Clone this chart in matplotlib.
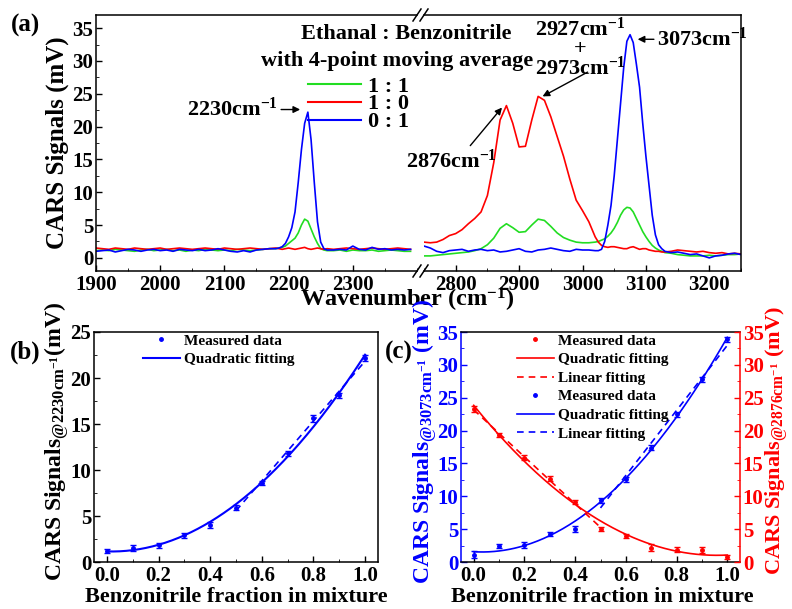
import numpy as np
import matplotlib
matplotlib.use("Agg")
import matplotlib.pyplot as plt
from matplotlib.lines import Line2D
from matplotlib.ticker import MultipleLocator

plt.rcParams['font.family'] = 'Liberation Serif'
plt.rcParams['font.weight'] = 'bold'
plt.rcParams['mathtext.fontset'] = 'custom'
plt.rcParams['mathtext.rm'] = 'Liberation Serif:bold'
plt.rcParams['mathtext.bf'] = 'Liberation Serif:bold'
plt.rcParams['mathtext.it'] = 'Liberation Serif:bold:italic'
plt.rcParams['mathtext.default'] = 'rm'
plt.rcParams['axes.linewidth'] = 1.1
plt.rcParams['xtick.direction'] = 'in'
plt.rcParams['ytick.direction'] = 'in'
plt.rcParams['xtick.major.size'] = 4
plt.rcParams['ytick.major.size'] = 4
plt.rcParams['xtick.minor.size'] = 2.2
plt.rcParams['ytick.minor.size'] = 2.2
plt.rcParams['xtick.major.width'] = 1.0
plt.rcParams['ytick.major.width'] = 1.0

BLUE = '#0000ff'
RED = '#ff0000'
GREEN = '#22dd22'

# ---- spectra (4-point moving average), low-wavenumber window ----
wn_low = list(range(1900, 2180, 10)) + list(range(2180, 2265, 5)) + list(range(2270, 2400, 10))
blue_low = [1.0, 1.1, 1.2, 0.9, 1.1, 1.3, 1.2, 1.0, 1.2, 1.3, 1.1, 1.2, 1.0, 1.3,
            1.2, 1.1, 1.3, 1.1, 1.2, 1.4, 1.2, 1.0, 0.9, 1.1, 0.9, 1.2, 1.3, 1.4,
            1.4, 1.5, 1.7, 2.2, 3.2, 4.6, 7.0, 11.5, 16.5, 20.5, 22.2, 18.0, 11.5,
            5.5, 2.4, 1.4, 1.2,
            1.2, 1.3, 1.2, 1.8, 1.3, 1.2, 1.6, 1.3, 1.4, 1.2, 1.3, 1.2, 1.3]
green_low = [1.1, 1.2, 1.1, 1.3, 1.2, 1.1, 1.0, 1.2, 1.3, 1.1, 1.2, 1.3, 1.1, 1.2,
             1.0, 1.2, 1.1, 1.3, 1.2, 1.1, 1.2, 1.1, 1.3, 1.2, 1.1, 1.2, 1.3, 1.4,
             1.4, 1.5, 1.6, 1.8, 2.2, 2.6, 3.0, 3.8, 5.0, 5.9, 5.6, 4.4, 3.2, 2.2,
             1.4, 1.2, 1.1,
             1.1, 1.2, 1.0, 1.2, 1.1, 1.1, 1.2, 1.0, 1.1, 1.2, 1.1, 1.0, 1.0]
red_low = [1.5, 1.4, 1.3, 1.5, 1.4, 1.3, 1.5, 1.4, 1.3, 1.4, 1.5, 1.3, 1.4, 1.5,
           1.4, 1.3, 1.4, 1.5, 1.4, 1.3, 1.5, 1.4, 1.3, 1.4, 1.5, 1.4, 1.3, 1.4,
           1.5, 1.4, 1.3, 1.4, 1.5, 1.4, 1.3, 1.4, 1.5, 1.6, 1.4, 1.3, 1.4, 1.5,
           1.4, 1.3, 1.4,
           1.3, 1.4, 1.5, 1.4, 1.3, 1.4, 1.5, 1.4, 1.3, 1.4, 1.5, 1.4, 1.3]

# ---- spectra, C-H stretch window ----
wn_high = list(range(2750, 3025, 10)) + list(range(3025, 3135, 5)) + list(range(3140, 3260, 10))
red_high = [2.4, 2.3, 2.4, 2.8, 3.4, 3.7, 4.3, 5.2, 6.0, 7.0, 9.5, 14.5, 21.0, 23.2,
            20.5, 16.9, 17.0, 21.0, 24.6, 24.0, 21.5, 18.5, 15.5, 12.0, 8.8, 7.2, 5.5, 3.2,
            2.4, 1.9, 1.7, 1.6, 1.7, 1.7, 1.6, 1.5, 1.4, 1.4, 1.6, 1.7, 1.5, 1.3, 1.4,
            1.4, 1.2, 1.1, 1.0, 1.0, 0.9, 0.9,
            1.0, 1.2, 1.1, 1.0, 0.9, 1.0, 0.8, 0.7, 0.8, 0.6, 0.7, 0.6]
blue_high = [1.8, 1.5, 1.0, 0.8, 1.1, 1.2, 1.3, 1.0, 1.2, 1.3, 1.1, 1.2, 0.9, 1.0,
             1.2, 1.4, 1.0, 0.9, 1.2, 1.3, 1.5, 1.3, 1.1, 1.0, 1.3, 1.2, 1.2, 1.1,
             1.1, 1.3, 2.5, 5.0, 8.0, 12.5, 18.0, 23.5, 29.0, 33.0, 34.0, 32.8, 29.5,
             26.0, 20.5, 15.5, 11.0, 6.5, 3.5, 2.0, 1.4, 1.0,
             0.8, 0.9, 0.7, 0.5, 0.6, 0.3, 0.0, 0.3, 0.4, 0.6, 0.7, 0.5]
green_high = [0.3, 0.3, 0.4, 0.5, 0.6, 0.7, 0.8, 0.9, 1.1, 1.4, 2.0, 3.0, 4.5, 5.2,
              4.6, 3.9, 4.0, 5.0, 5.9, 5.7, 4.8, 3.8, 3.1, 2.7, 2.4, 2.3, 2.3, 2.4,
              2.5, 2.7, 2.9, 3.3, 3.8, 4.5, 5.4, 6.5, 7.3, 7.7, 7.6, 7.0, 6.0, 5.0,
              4.0, 3.2, 2.5, 1.9, 1.5, 1.2, 1.0, 0.8,
              0.7, 0.5, 0.4, 0.3, 0.3, 0.3, 0.4, 0.3, 0.4, 0.5, 0.5, 0.6]
ratio_labels = ['1 : 1', '1 : 0', '0 : 1']

# ---- peak intensities vs benzonitrile fraction ----
fraction = [0.0, 0.1, 0.2, 0.3, 0.4, 0.5, 0.6, 0.7, 0.8, 0.9, 1.0]
sig_2230 = [1.2, 1.5, 1.8, 2.9, 4.0, 5.9, 8.6, 11.8, 15.6, 18.1, 22.2]
err_2230 = [0.25, 0.35, 0.3, 0.25, 0.35, 0.25, 0.25, 0.3, 0.35, 0.3, 0.3]
sig_3073 = [1.1, 2.5, 2.6, 4.2, 5.0, 9.4, 12.6, 17.4, 22.5, 27.8, 33.9]
err_3073 = [0.5, 0.3, 0.4, 0.3, 0.5, 0.4, 0.4, 0.4, 0.4, 0.4, 0.4]
sig_2876 = [23.3, 19.3, 15.9, 12.7, 9.1, 5.0, 4.0, 2.2, 1.9, 1.8, 0.8]
err_2876 = [0.4, 0.3, 0.4, 0.4, 0.3, 0.3, 0.3, 0.5, 0.4, 0.5, 0.3]

W, H = 792, 609
fig = plt.figure(figsize=(W / 100, H / 100), dpi=100)


def rect(x0, y0, x1, y1):
    # pixel box (top-left origin) -> figure fraction rect
    return [x0 / W, 1 - y1 / H, (x1 - x0) / W, (y1 - y0) / H]


def fxy(x, y):
    return x / W, 1 - y / H


# ================= (a) broken-axis spectra =================
axL = fig.add_axes(rect(96, 15, 417, 271))
axR = fig.add_axes(rect(424, 15, 741, 271))
for ax in (axL, axR):
    ax.set_ylim(-2, 37)
    ax.tick_params(labelsize=15, pad=3)
    ax.xaxis.set_minor_locator(MultipleLocator(50))
axL.set_xlim(1900, 2400)
axR.set_xlim(2750, 3250)
axL.set_xticks([1900, 2000, 2100, 2200, 2300])
axR.set_xticks([2800, 2900, 3000, 3100, 3200])
axL.set_yticks(range(0, 36, 5))
axL.yaxis.set_minor_locator(MultipleLocator(2.5))
axL.spines['right'].set_visible(False)
axR.spines['left'].set_visible(False)
axR.tick_params(axis='y', which='both', left=False, labelleft=False)
axL.tick_params(axis='y', pad=2)

axL.plot(wn_low, green_low, color=GREEN, lw=1.2)
axL.plot(wn_low, red_low, color=RED, lw=1.2)
axL.plot(wn_low, blue_low, color=BLUE, lw=1.2)
axR.plot(wn_high, green_high, color=GREEN, lw=1.2)
axR.plot(wn_high, red_high, color=RED, lw=1.2)
axR.plot(wn_high, blue_high, color=BLUE, lw=1.2)

# break marks on top and bottom frame
for xb in (417, 424):
    for yb in (15, 271):
        x0, y0 = fxy(xb - 4, yb + 6)
        x1, y1 = fxy(xb + 4, yb - 6)
        fig.add_artist(Line2D([x0, x1], [y0, y1], color='k', lw=1.1))

handles = [Line2D([], [], color=c, lw=1.5) for c in (GREEN, RED, BLUE)]
fig.legend(handles, ratio_labels, loc='upper left', bbox_to_anchor=fxy(308, 76),
           frameon=False, fontsize=16, handlelength=2.4, handletextpad=0.3,
           labelspacing=-0.12, borderpad=0, borderaxespad=0)
fig.text(*fxy(406, 34), 'Ethanal : Benzonitrile', ha='center', va='center', fontsize=16)
fig.text(*fxy(397, 61), 'with 4-point moving average', ha='center', va='center', fontsize=16)

arrow = dict(arrowstyle='-|>', color='k', lw=1.0, mutation_scale=10, shrinkA=0, shrinkB=0)
axL.annotate('2230cm$^{-1}$', xy=(2218, 22.6), xytext=(2184, 22.6), ha='right', va='center',
             fontsize=16, arrowprops=arrow, annotation_clip=False)
axR.annotate('', xy=(2873, 22.9), xytext=(2823, 17.1), arrowprops=arrow)
axR.text(2794, 14.7, '2876cm$^{-1}$', ha='center', va='center', fontsize=16, clip_on=False)
axR.annotate('', xy=(2937, 24.6), xytext=(3008, 28.3), arrowprops=arrow)
axR.text(2997, 34.8, '2927cm$^{-1}$', ha='center', va='center', fontsize=16)
axR.text(2997, 31.8, '+', ha='center', va='center', fontsize=16)
axR.text(2997, 28.9, '2973cm$^{-1}$', ha='center', va='center', fontsize=16)
axR.annotate('3073cm$^{-1}$', xy=(3087, 33.3), xytext=(3117, 33.3), ha='left', va='center',
             fontsize=16, arrowprops=arrow, annotation_clip=False)

fig.text(*fxy(64, 143), 'CARS Signals (mV)', rotation=90, rotation_mode='anchor',
         ha='center', va='baseline', fontsize=18)
fig.text(*fxy(407, 307), 'Wavenumber (cm$^{-1}$)', ha='center', va='baseline', fontsize=17.5)
fig.text(*fxy(11, 25), '(a)', ha='left', va='center', fontsize=18)

# ================= (b) 2230 cm-1 vs fraction =================
fr = np.array(fraction)
xq = np.linspace(0, 1, 200)
xh1 = np.linspace(0.5, 1.0, 50)
xh0 = np.linspace(0.0, 0.5, 50)

axB = fig.add_axes(rect(94, 332, 378, 562))
axB.set_xlim(-0.05, 1.05)
axB.set_ylim(0, 25)
axB.set_xticks(np.arange(0, 1.01, 0.2))
axB.set_yticks(range(0, 26, 5))
axB.xaxis.set_minor_locator(MultipleLocator(0.1))
axB.yaxis.set_minor_locator(MultipleLocator(2.5))
axB.tick_params(labelsize=15, pad=3)
axB.tick_params(axis='y', pad=2)
axB.xaxis.set_major_formatter(plt.FormatStrFormatter('%.1f'))

axB.errorbar(fraction, sig_2230, yerr=err_2230, fmt='o', ms=2.5, color=BLUE,
             capsize=2, elinewidth=1, capthick=1)
q = np.polyfit(fr, sig_2230, 2)
axB.plot(xq, np.polyval(q, xq), color=BLUE, lw=1.5)
sel = fr >= 0.5
lb = np.polyfit(fr[sel], np.array(sig_2230)[sel], 1)
axB.plot(xh1, np.polyval(lb, xh1), color=BLUE, lw=1.2, ls=(0, (4, 3)))

hb = [Line2D([], [], ls='none', marker='o', ms=2.5, color=BLUE),
      Line2D([], [], color=BLUE, lw=1.5)]
axB.legend(hb, ['Measured data', 'Quadratic fitting'], loc='upper left',
           bbox_to_anchor=fxy(143, 334), bbox_transform=fig.transFigure,
           frameon=False, fontsize=11, handlelength=2.4, handletextpad=0.3,
           labelspacing=0.3, borderpad=0, borderaxespad=0)

fig.text(*fxy(62, 441), 'CARS Signals$_{@2230cm^{-1}}$(mV)', rotation=90,
         rotation_mode='anchor', ha='center', va='baseline', fontsize=17)
fig.text(*fxy(236, 597), 'Benzonitrile fraction in mixture', ha='center', va='center', fontsize=16)
fig.text(*fxy(10, 352), '(b)', ha='left', va='center', fontsize=18)

# ================= (c) 3073 / 2876 cm-1 vs fraction =================
axC = fig.add_axes(rect(461, 332, 740, 562))
axC2 = axC.twinx()
for ax in (axC, axC2):
    ax.set_xlim(-0.05, 1.05)
    ax.set_ylim(0, 35)
    ax.set_yticks(range(0, 36, 5))
    ax.yaxis.set_minor_locator(MultipleLocator(2.5))
    ax.tick_params(labelsize=15, pad=2)
axC.set_xticks(np.arange(0, 1.01, 0.2))
axC.xaxis.set_minor_locator(MultipleLocator(0.1))
axC.xaxis.set_major_formatter(plt.FormatStrFormatter('%.1f'))
axC.tick_params(axis='x', pad=3)
axC.spines['right'].set_visible(False)
axC2.spines['left'].set_visible(False)
axC2.spines['top'].set_visible(False)
axC2.spines['bottom'].set_visible(False)
axC.spines['left'].set_color(BLUE)
axC2.spines['right'].set_color(RED)
axC.tick_params(axis='y', which='both', colors=BLUE)
axC2.tick_params(axis='y', which='both', colors=RED)

axC2.errorbar(fraction, sig_2876, yerr=err_2876, fmt='o', ms=2.5, color=RED,
              capsize=2, elinewidth=1, capthick=1)
qr = np.polyfit(fr, sig_2876, 2)
axC2.plot(xq, np.polyval(qr, xq), color=RED, lw=1.2)
sel0 = fr <= 0.5
lr = np.polyfit(fr[sel0], np.array(sig_2876)[sel0], 1)
axC2.plot(xh0, np.polyval(lr, xh0), color=RED, lw=1.2, ls=(0, (4, 3)))

axC.errorbar(fraction, sig_3073, yerr=err_3073, fmt='o', ms=2.5, color=BLUE,
             capsize=2, elinewidth=1, capthick=1)
qb = np.polyfit(fr, sig_3073, 2)
axC.plot(xq, np.polyval(qb, xq), color=BLUE, lw=1.2)
lbl = np.polyfit(fr[sel], np.array(sig_3073)[sel], 1)
axC.plot(xh1, np.polyval(lbl, xh1), color=BLUE, lw=1.2, ls=(0, (4, 3)))

hc = []
for c in (RED, BLUE):
    hc += [Line2D([], [], ls='none', marker='o', ms=2.5, color=c),
           Line2D([], [], color=c, lw=1.2),
           Line2D([], [], color=c, lw=1.2, ls=(0, (4, 3)))]
axC2.legend(hc, ['Measured data', 'Quadratic fitting', 'Linear fitting'] * 2,
            loc='upper left', bbox_to_anchor=fxy(517, 334), bbox_transform=fig.transFigure,
            frameon=False, fontsize=11, handlelength=2.4, handletextpad=0.3,
            labelspacing=0.32, borderpad=0, borderaxespad=0)

fig.text(*fxy(430, 441), 'CARS Signals$_{@3073cm^{-1}}$ (mV)', rotation=90,
         rotation_mode='anchor', ha='center', va='baseline', fontsize=17, color=BLUE)
fig.text(*fxy(781, 441), 'CARS Signals$_{@2876cm^{-1}}$ (mV)', rotation=90,
         rotation_mode='anchor', ha='center', va='baseline', fontsize=16, color=RED)
fig.text(*fxy(602, 597), 'Benzonitrile fraction in mixture', ha='center', va='center', fontsize=16)
fig.text(*fxy(385, 352), '(c)', ha='left', va='center', fontsize=18)

fig.savefig('out.png', dpi=100)
